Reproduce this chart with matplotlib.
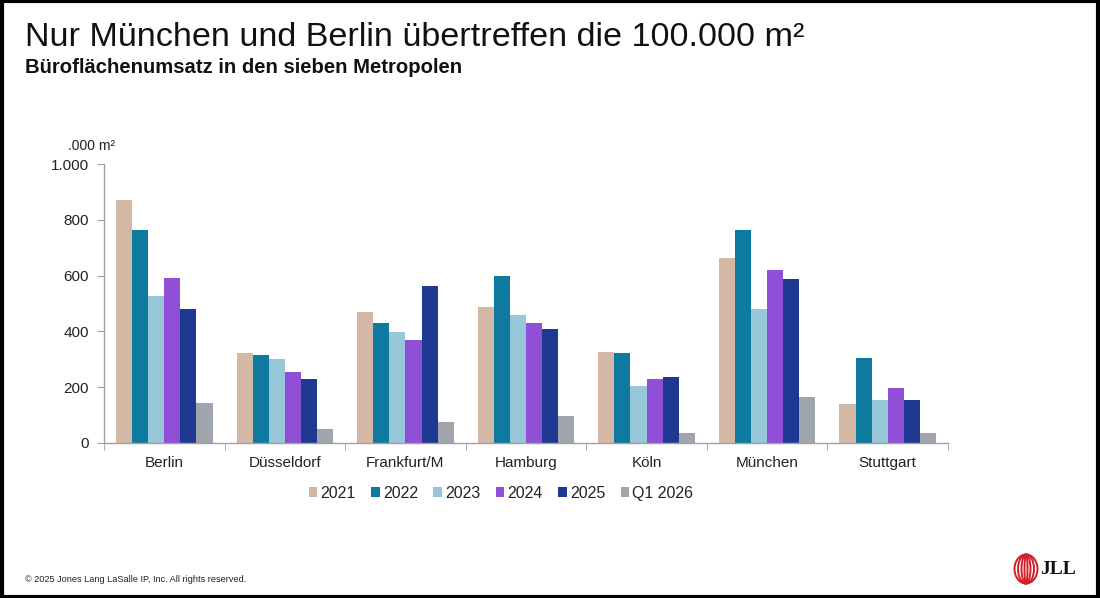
import matplotlib
matplotlib.use("Agg")
import matplotlib.pyplot as plt
import numpy as np
from matplotlib.patches import Rectangle, Ellipse

cities = ["Berlin", "Düsseldorf", "Frankfurt/M", "Hamburg", "Köln", "München", "Stuttgart"]
series_names = ["2021", "2022", "2023", "2024", "2025", "Q1 2026"]
v2021 = [870, 323, 468, 487, 327, 662, 141]
v2022 = [764, 317, 429, 598, 323, 762, 305]
v2023 = [527, 302, 398, 457, 206, 480, 154]
v2024 = [592, 253, 369, 429, 229, 619, 198]
v2025 = [480, 229, 564, 410, 237, 588, 154]
vq1 = [145, 49, 74, 96, 37, 164, 37]
series_values = [v2021, v2022, v2023, v2024, v2025, vq1]
colors = ["#D3B8A5", "#0E7AA0", "#97C7D8", "#8F4FD6", "#1F3891", "#9EA5AC"]
yticks = [0, 200, 400, 600, 800, 1000]
ytick_labels = ["0", "200", "400", "600", "800", "1.000"]

plt.rcParams['font.family'] = ['Liberation Sans', 'DejaVu Sans']

fig = plt.figure(figsize=(11, 5.98), dpi=100)
ax = fig.add_axes([104/1100, 1-443/598, (948-104)/1100, (443-164)/598])

n = len(series_names)
x = np.arange(len(cities))
group = 0.8
w = group / n
for i, (name, vals, c) in enumerate(zip(series_names, series_values, colors)):
    ax.bar(x - group/2 + w*(i+0.5), vals, width=w, color=c, label=name, linewidth=0)

ax.set_xlim(-0.5, len(cities)-0.5)
ax.set_ylim(0, 1000)
ax.set_yticks(yticks)
ax.set_yticklabels(ytick_labels, fontsize=11, color="#222222")
ax.set_xticks(x)
ax.set_xticklabels([])
ax.tick_params(axis='x', length=0)
for i, city in enumerate(cities):
    ax.annotate(city, xy=(i, 0), xycoords=('data', 'axes fraction'), xytext=(0, -17.5),
                textcoords='offset points', ha='center', va='baseline', fontsize=11,
                color="#222222")
ax.set_xticks(np.arange(len(cities)+1) - 0.5, minor=True)
ax.tick_params(axis='x', which='minor', length=5, color="#A0A0A0", direction='out')
ax.tick_params(axis='y', length=5, color="#A0A0A0", pad=6)
for s in ["top", "right"]:
    ax.spines[s].set_visible(False)
for s in ["left", "bottom"]:
    ax.spines[s].set_color("#A0A0A0")
    ax.spines[s].set_linewidth(1)

leg = ax.legend(loc="upper center", bbox_to_anchor=((501-104)/844, -0.13), ncol=6,
                frameon=False, fontsize=11.5, handlelength=0.55, handleheight=0.55,
                handletextpad=0.2, columnspacing=0.95, borderaxespad=0)
for t in leg.get_texts():
    t.set_color("#222222")

fig.text(25/1100, 1-46/598, "Nur München und Berlin übertreffen die 100.000 m²", fontsize=24.6,
         color="#111111", va="baseline")
fig.text(25/1100, 1-73/598, "Büroflächenumsatz in den sieben Metropolen", fontsize=14.6,
         fontweight="bold", color="#111111", va="baseline")
fig.text(68/1100, 1-150/598, ".000 m²", fontsize=10, color="#222222", ha="left", va="baseline")
fig.text(25/1100, 1-582/598, "© 2025 Jones Lang LaSalle IP, Inc. All rights reserved.", fontsize=6.6,
         color="#222222", va="baseline")

# JLL logo
lx, ly = 1026/1100, 1-569/598
for ww in [23, 16, 9, 3]:
    e = Ellipse((lx, ly), ww/1100, 29/598, transform=fig.transFigure, fill=False,
                edgecolor="#D21F26", linewidth=1.4)
    fig.add_artist(e)
fig.text(1040/1100, ly, "JLL", fontsize=14, fontweight="bold", family="Liberation Serif",
         color="#111111", va="center", ha="left")

border = Rectangle((0.0015, 0.0025), 0.997, 0.995, transform=fig.transFigure, fill=False,
                   edgecolor="black", linewidth=3)
fig.add_artist(border)

fig.savefig("out.png", dpi=100)
